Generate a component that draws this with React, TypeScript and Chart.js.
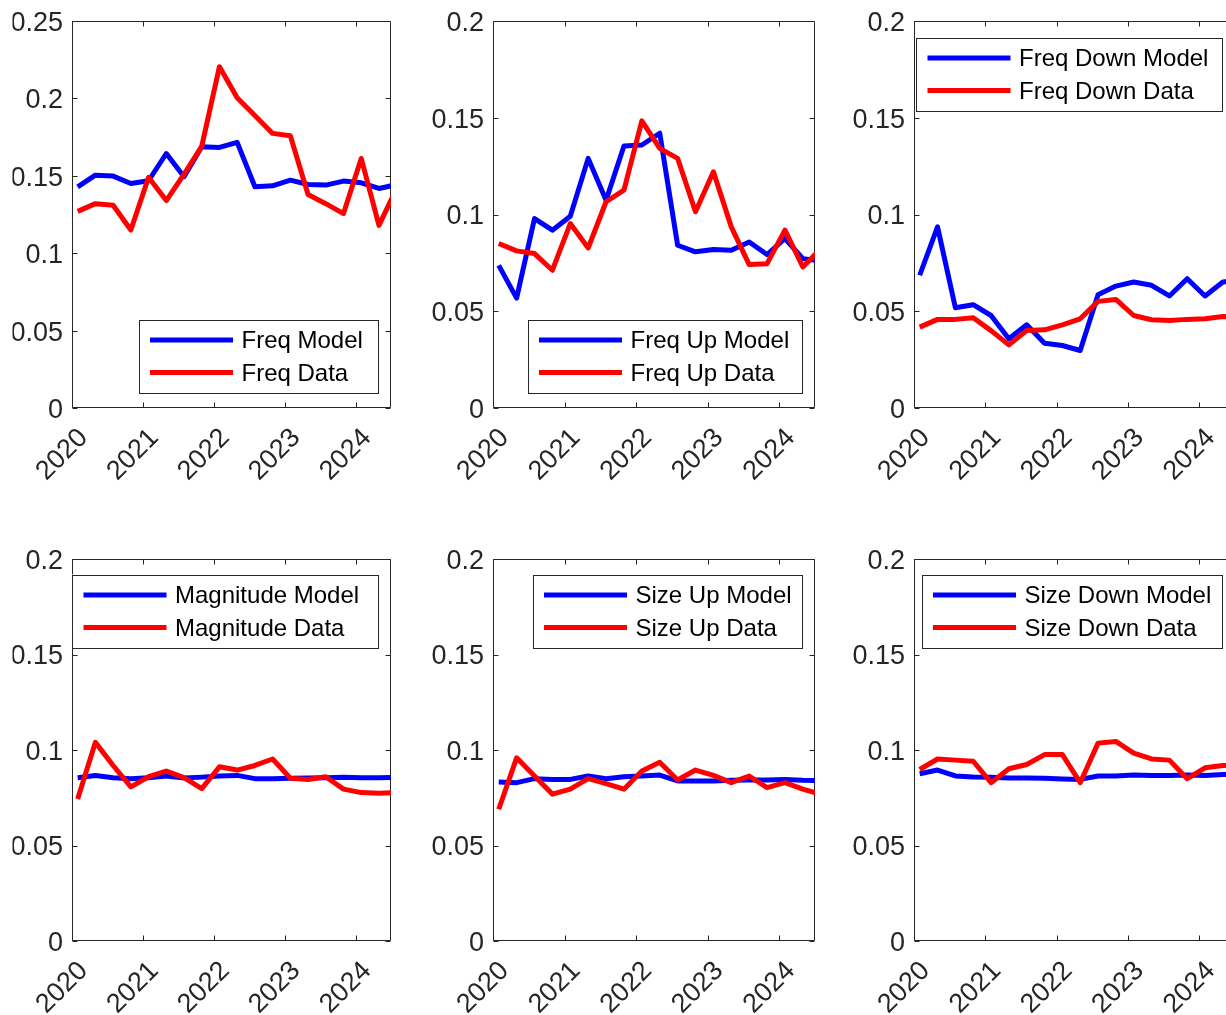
import React, { useEffect, useRef } from "react";
import { Chart, registerables } from "chart.js";

Chart.register(...registerables);

// ---------- data ----------
const quarters = [
  2020.08, 2020.33, 2020.58, 2020.83, 2021.08, 2021.33, 2021.58, 2021.83,
  2022.08, 2022.33, 2022.58, 2022.83, 2023.08, 2023.33, 2023.58, 2023.83,
  2024.08, 2024.33, 2024.58,
];
const yearTicks = [2020, 2021, 2022, 2023, 2024];
const yTicksWide = [0, 0.05, 0.1, 0.15, 0.2, 0.25];
const yTicksStd = [0, 0.05, 0.1, 0.15, 0.2];

const freqModel = [0.1429, 0.1504, 0.1498, 0.145, 0.1468, 0.1644, 0.1494, 0.1688, 0.1683, 0.1716, 0.1429, 0.1435, 0.1472, 0.1444, 0.144, 0.1466, 0.1455, 0.1418, 0.1443];
const freqData = [0.127, 0.132, 0.131, 0.115, 0.149, 0.134, 0.151, 0.169, 0.2205, 0.2004, 0.189, 0.1774, 0.1759, 0.1379, 0.132, 0.1256, 0.1612, 0.118, 0.142];

const freqUpModel = [0.0737, 0.0568, 0.0979, 0.0919, 0.0991, 0.129, 0.1074, 0.1354, 0.1359, 0.142, 0.0841, 0.0807, 0.0819, 0.0815, 0.0858, 0.0793, 0.0876, 0.0772, 0.0759];
const freqUpData = [0.085, 0.0812, 0.0798, 0.0712, 0.0953, 0.0827, 0.1066, 0.1126, 0.1484, 0.1342, 0.129, 0.1014, 0.1221, 0.0936, 0.0741, 0.0746, 0.0919, 0.0729, 0.0823];

const freqDownModel = [0.0686, 0.0936, 0.0518, 0.0534, 0.0478, 0.0358, 0.043, 0.0335, 0.0323, 0.0297, 0.0585, 0.063, 0.0651, 0.0634, 0.0579, 0.0668, 0.0579, 0.0651, 0.066];
const freqDownData = [0.0418, 0.0458, 0.0458, 0.0466, 0.04, 0.0326, 0.04, 0.0404, 0.043, 0.0461, 0.0551, 0.0561, 0.0478, 0.0456, 0.0452, 0.0458, 0.0461, 0.0473, 0.047];

const magModel = [0.0855, 0.0867, 0.0855, 0.085, 0.0855, 0.0864, 0.0853, 0.0858, 0.0864, 0.0867, 0.085, 0.085, 0.0852, 0.0853, 0.0855, 0.0857, 0.0855, 0.0855, 0.0856];
const magData = [0.0743, 0.104, 0.0919, 0.0807, 0.086, 0.089, 0.0855, 0.0798, 0.0912, 0.0895, 0.0919, 0.0953, 0.0852, 0.0846, 0.086, 0.0795, 0.0777, 0.0774, 0.0778];

const sizeUpModel = [0.0833, 0.0829, 0.085, 0.0846, 0.0846, 0.0864, 0.085, 0.086, 0.0864, 0.0869, 0.0838, 0.0838, 0.0838, 0.0841, 0.0843, 0.0843, 0.0846, 0.0841, 0.084];
const sizeUpData = [0.069, 0.0959, 0.0864, 0.0769, 0.0795, 0.085, 0.0824, 0.0795, 0.089, 0.0936, 0.0843, 0.0895, 0.0867, 0.0829, 0.0864, 0.0803, 0.0829, 0.0795, 0.0769];

const sizeDownModel = [0.0876, 0.0895, 0.0864, 0.0859, 0.0857, 0.0853, 0.0853, 0.0852, 0.0848, 0.0846, 0.0864, 0.0864, 0.0869, 0.0867, 0.0867, 0.0869, 0.0866, 0.0872, 0.0873];
const sizeDownData = [0.0898, 0.0953, 0.0947, 0.0941, 0.0829, 0.0902, 0.0924, 0.0976, 0.0976, 0.0829, 0.1036, 0.1045, 0.0984, 0.0953, 0.0947, 0.085, 0.0907, 0.0919, 0.092];

// ---------- layout / style ----------
const TICK_FONT = '27px "Liberation Sans", Arial, Helvetica, sans-serif';
const LEGEND_FONT = '24px "Liberation Sans", Arial, Helvetica, sans-serif';
const AXIS_COLOR = "#262626";
const BLUE = "#0000ff";
const RED = "#ff0000";
const PAD_L = 90;
const PAD_T = 25;
const PAD_R = 14;
const PAD_B = 95;

type PanelCfg = {
  modelLabel: string;
  dataLabel: string;
  model: number[];
  data: number[];
  yMax: number;
  yTicks: number[];
  box: { left: number; top: number; width: number; height: number };
  legend: { x: number; y: number; w: number; h: number };
  clipLeft: number; // page x left of which the figure is trimmed
};

const panels: PanelCfg[] = [
  { modelLabel: "Freq Model", dataLabel: "Freq Data", model: freqModel, data: freqData, yMax: 0.25, yTicks: yTicksWide,
    box: { left: 72, top: 21, width: 319, height: 387 }, legend: { x: 138.5, y: 319.5, w: 239, h: 73 }, clipLeft: 12.5 },
  { modelLabel: "Freq Up Model", dataLabel: "Freq Up Data", model: freqUpModel, data: freqUpData, yMax: 0.2, yTicks: yTicksStd,
    box: { left: 493, top: 21, width: 322, height: 387 }, legend: { x: 527.5, y: 319.5, w: 273.5, h: 73 }, clipLeft: 0 },
  { modelLabel: "Freq Down Model", dataLabel: "Freq Down Data", model: freqDownModel, data: freqDownData, yMax: 0.2, yTicks: yTicksStd,
    box: { left: 914, top: 21, width: 321, height: 387 }, legend: { x: 916, y: 37.5, w: 305.5, h: 73 }, clipLeft: 0 },
  { modelLabel: "Magnitude Model", dataLabel: "Magnitude Data", model: magModel, data: magData, yMax: 0.2, yTicks: yTicksStd,
    box: { left: 72, top: 559, width: 319, height: 382 }, legend: { x: 72, y: 574.5, w: 305.5, h: 73 }, clipLeft: 12.5 },
  { modelLabel: "Size Up Model", dataLabel: "Size Up Data", model: sizeUpModel, data: sizeUpData, yMax: 0.2, yTicks: yTicksStd,
    box: { left: 493, top: 559, width: 322, height: 382 }, legend: { x: 532.5, y: 574.5, w: 269, h: 73 }, clipLeft: 0 },
  { modelLabel: "Size Down Model", dataLabel: "Size Down Data", model: sizeDownModel, data: sizeDownData, yMax: 0.2, yTicks: yTicksStd,
    box: { left: 914, top: 559, width: 321, height: 382 }, legend: { x: 921.5, y: 574.5, w: 300, h: 73 }, clipLeft: 0 },
];

function fmtTick(v: number): string {
  return String(Number(v.toFixed(4)));
}

function Panel({ cfg }: { cfg: PanelCfg }) {
  const ref = useRef<HTMLCanvasElement | null>(null);
  const cw = PAD_L + cfg.box.width + PAD_R;
  const ch = PAD_T + cfg.box.height + PAD_B;
  const cLeft = cfg.box.left - PAD_L;
  const cTop = cfg.box.top - PAD_T;

  useEffect(() => {
    const canvas = ref.current;
    if (!canvas) return;

    const matlabAxes = {
      id: "matlabAxes",
      beforeDatasetsDraw(chart: any) {
        const ctx = chart.ctx as CanvasRenderingContext2D;
        const a = chart.chartArea;
        const xs = chart.scales.x;
        const ys = chart.scales.y;
        const L = Math.round(a.left) + 0.5;
        const R = Math.round(a.right) - 0.5;
        const T = Math.round(a.top) + 0.5;
        const B = Math.round(a.bottom) - 0.5;
        ctx.save();
        ctx.strokeStyle = AXIS_COLOR;
        ctx.lineWidth = 1;
        ctx.beginPath();
        ctx.rect(L, T, R - L, B - T);
        ctx.stroke();
        const tl = 5;
        ctx.beginPath();
        for (const v of cfg.yTicks) {
          const y = Math.round(ys.getPixelForValue(v)) + 0.5;
          ctx.moveTo(L, y); ctx.lineTo(L + tl, y);
          ctx.moveTo(R, y); ctx.lineTo(R - tl, y);
        }
        for (const v of yearTicks) {
          const x = Math.round(xs.getPixelForValue(v)) + 0.5;
          ctx.moveTo(x, B); ctx.lineTo(x, B - tl);
          ctx.moveTo(x, T); ctx.lineTo(x, T + tl);
        }
        ctx.stroke();

        // tick labels (trimmed on the left like the source figure)
        ctx.save();
        const clipX = cfg.clipLeft - cLeft;
        ctx.beginPath();
        ctx.rect(clipX, 0, chart.width - clipX, chart.height);
        ctx.clip();
        ctx.fillStyle = AXIS_COLOR;
        ctx.font = TICK_FONT;
        ctx.textAlign = "right";
        ctx.textBaseline = "middle";
        for (const v of cfg.yTicks) {
          const y = ys.getPixelForValue(v);
          ctx.fillText(fmtTick(v), a.left - 9, y + 2.5);
        }
        for (const v of yearTicks) {
          const x = xs.getPixelForValue(v);
          ctx.save();
          ctx.translate(x + 2, a.bottom + 16);
          ctx.rotate(-Math.PI / 4);
          ctx.textAlign = "right";
          ctx.textBaseline = "top";
          ctx.fillText(String(v), 0, 0);
          ctx.restore();
        }
        ctx.restore();
        ctx.restore();
      },
      afterDatasetsDraw(chart: any) {
        const ctx = chart.ctx as CanvasRenderingContext2D;
        const lg = cfg.legend;
        const x = lg.x - cLeft;
        const y = lg.y - cTop;
        ctx.save();
        ctx.fillStyle = "#ffffff";
        ctx.fillRect(x, y, lg.w, lg.h);
        ctx.strokeStyle = AXIS_COLOR;
        ctx.lineWidth = 1;
        ctx.strokeRect(Math.round(x) + 0.5, Math.round(y) + 0.5, Math.round(lg.w), Math.round(lg.h));
        const entries = [
          { label: cfg.modelLabel, color: BLUE },
          { label: cfg.dataLabel, color: RED },
        ];
        const rows = [y + 20.5, y + 53];
        entries.forEach((e, i) => {
          ctx.strokeStyle = e.color;
          ctx.lineWidth = 5;
          ctx.beginPath();
          ctx.moveTo(x + 11.5, rows[i]);
          ctx.lineTo(x + 94.5, rows[i]);
          ctx.stroke();
          ctx.fillStyle = "#000000";
          ctx.font = LEGEND_FONT;
          ctx.textAlign = "left";
          ctx.textBaseline = "middle";
          ctx.fillText(e.label, x + 103, rows[i] + 1.5);
        });
        ctx.restore();
      },
    };

    const chart = new Chart(canvas, {
      type: "line",
      data: {
        datasets: [
          {
            label: cfg.modelLabel,
            data: quarters.map((q, i) => ({ x: q, y: cfg.model[i] })),
            borderColor: BLUE,
            borderWidth: 5,
            pointRadius: 0,
            fill: false,
            tension: 0,
            clip: 0,
            order: 2,
            borderJoinStyle: "round",
          },
          {
            label: cfg.dataLabel,
            data: quarters.map((q, i) => ({ x: q, y: cfg.data[i] })),
            borderColor: RED,
            borderWidth: 5,
            pointRadius: 0,
            fill: false,
            tension: 0,
            clip: 0,
            order: 1,
            borderJoinStyle: "round",
          },
        ],
      },
      options: {
        responsive: false,
        animation: false,
        devicePixelRatio: 1,
        layout: { padding: { left: PAD_L, top: PAD_T, right: PAD_R, bottom: PAD_B } },
        scales: {
          x: { type: "linear", min: 2020, max: 2024.5, display: false },
          y: { type: "linear", min: 0, max: cfg.yMax, display: false },
        },
        plugins: {
          legend: { display: false },
          tooltip: { enabled: false },
        },
      },
      plugins: [matlabAxes],
    } as any);
    return () => chart.destroy();
  }, []);

  return (
    <canvas
      ref={ref}
      width={cw}
      height={ch}
      style={{ position: "absolute", left: cLeft, top: cTop, width: cw, height: ch }}
    />
  );
}

export default function App() {
  return (
    <div
      style={{
        position: "fixed",
        left: 0,
        top: 0,
        width: 1226,
        height: 1015,
        overflow: "hidden",
        background: "#ffffff",
      }}
    >
      {panels.map((p, i) => (
        <Panel key={i} cfg={p} />
      ))}
    </div>
  );
}
